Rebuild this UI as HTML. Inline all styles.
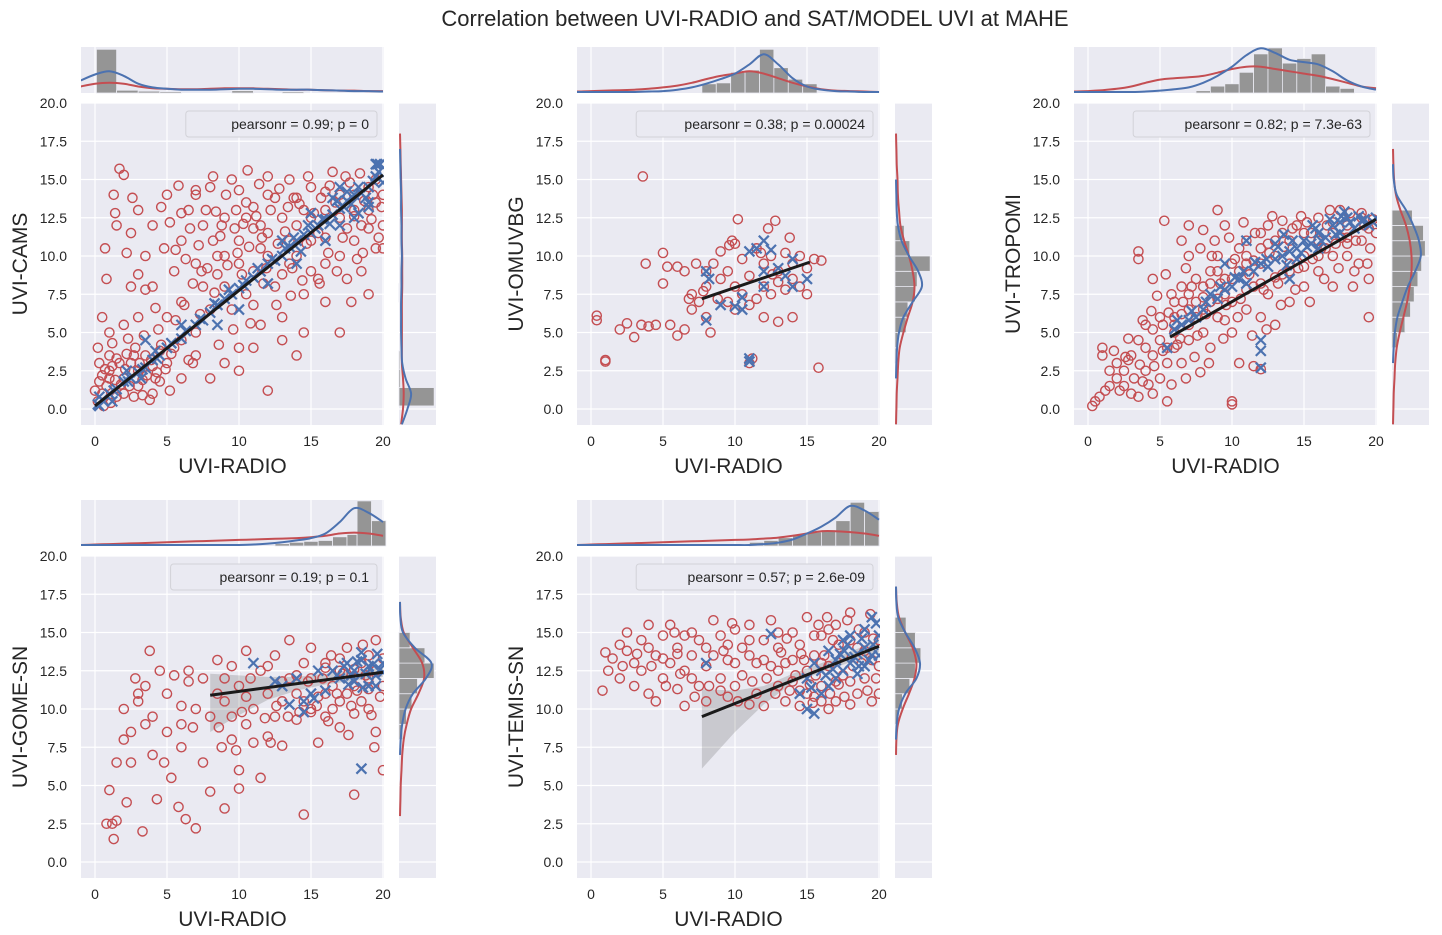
<!DOCTYPE html>
<html><head><meta charset="utf-8"><style>
html,body{margin:0;padding:0;background:#fff;}
svg{display:block;font-family:"Liberation Sans",sans-serif;}
</style></head><body>
<svg id="chart" width="1442" height="935" viewBox="0 0 1442 935" xmlns="http://www.w3.org/2000/svg">
<text x="755" y="26" text-anchor="middle" font-size="22" fill="#262626">Correlation between UVI-RADIO and SAT/MODEL UVI at MAHE</text>
</svg>
<script>
// ---- data ----
const xTicks=[0,5,10,15,20];
const yTicks=[0,2.5,5,7.5,10,12.5,15,17.5,20];
const yTickLabels=["0.0","2.5","5.0","7.5","10.0","12.5","15.0","17.5","20.0"];
const yTitles=["UVI-CAMS","UVI-OMUVBG","UVI-TROPOMI","UVI-GOME-SN","UVI-TEMIS-SN"];
const legendTexts=["pearsonr = 0.99; p = 0","pearsonr = 0.38; p = 0.00024","pearsonr = 0.82; p = 7.3e-63","pearsonr = 0.19; p = 0.1","pearsonr = 0.57; p = 2.6e-09"];
const fitLines=[[0,0.2,20,15.3],[7.7,7.2,15.2,9.6],[5.7,4.7,20,12.4],[8,10.9,20,12.4],[7.7,9.5,20,14.1]];
const ciBands=[[],[],[],[[8,8.5,12.3],[10,9.6,12.2],[12,10.6,12.1],[14,11.2,12.1],[16,11.6,12.3],[20,12.1,12.7]],[[7.7,6.1,11.3],[10,8.5,11.2],[12,10.3,11.5],[14,11.7,12.3],[16,12.4,13.0],[20,13.7,14.5]]];
const red1=[0.2,0.5,0.5,1,0.8,1.5,1,2,1.2,2.8,1.5,3.3,2,2,2.5,3,3,2.5,3.5,3.5,4,2.8,4.5,3.8,2,1,3,1.5,4,1,1.5,0.8,0.5,2.2,1,3.5,0,1.2,2.8,4,5,3,5.5,4,3.8,0.6,4.5,1.8,0.3,3,0.2,4,1,5,0.5,6,2,5.5,3,6,0.8,8.5,0.7,10.5,1.7,15.7,2,15.3,1.5,12,1.3,14,2.5,11.5,3,13,3.5,10,4,8,4,12,5,14,5.5,9,6,11,6,7,6.5,13,7,5,7,9.5,7.5,12,8,14.5,8,6.5,8.5,10,9,12.5,9,8,9.5,15,10,4,10,11,10.5,13.5,10.5,7.5,11,9,11.5,12,11.5,5.5,12,14,12,10,12.5,8,13,12.5,13,6,13.5,15,14,10,14,3.5,14.5,13,15,9,15,14.5,15.5,11.5,16,7,16,13,16.5,15.5,17,10,17,12.5,17.5,8.5,18,14,18,11,18.5,9,19,13,19,7.5,19.5,15,19.5,10.5,20,12,20,14,8,2,9,3,10,2.5,12,1.2,11,4,13,4.5,14.5,5,7,3.5,6,2,6,4.5,17,5,12,11.5,10,9.5,9,10,11,13.2,14,12,13,8.8,15,11,16,9.5,4.8,10.5,3.5,7.8,2.5,8,7.2,10.7,8.8,12,5.2,12.2,10,14.3,12,15.2,11,6.8,16,11.2,18,12.6,19,11.8,1,2.5,2.2,3.6,3.3,1.9,0.6,0.2,1.8,1.6,2.7,0.8,4.2,2,5.2,1.2,6.5,3.2,7.5,8,8.2,11,9.5,6.5,10.5,12.5,11.5,10.5,12.5,13.8,13.5,11,14,13.8,15,12.5,16,14.2,17,14,18,13,19,14.5,6,12.8,7,14,5,6,8.5,8.8,9.8,13,11,11.8,13.5,9.5,14.5,7.5,15.5,8.5,17.5,11.8,18.5,12,19.5,13.5,20,10.5];
const red1b=[0.3,1.8,0.7,2.6,1.1,0.4,1.4,1.9,1.7,3,2.1,2.6,2.4,1.5,2.7,3.5,3.1,3,3.3,0.9,3.6,2.2,3.9,3.2,4.3,2.4,4.6,4.2,4.9,2.6,5.3,3.6,1.2,4.3,2.3,4.6,3.4,4.8,4.4,5.2,5.6,5.8,6.2,6.8,6.8,8.2,7.3,6.2,7.8,9.2,8.3,7.6,8.7,11.3,9.2,9.4,9.7,11.8,10.2,8.8,10.7,10.6,11.2,12.6,11.7,8.2,12.2,13,12.7,10.8,13.2,11.6,13.7,9.2,14.2,13.4,14.7,10.8,15.2,12.8,15.7,13.8,16.2,10.2,16.7,13.5,17.2,11.2,17.7,14.8,18.2,9.8,18.7,13.6,19.2,12.4,19.7,11.2,19.9,13.2,6.3,9.8,7.7,13,8.4,12.9,9.1,14,10.3,12.1,11.4,14.7,12.8,14.4,13.8,13.8,14.8,15.2,16.3,14.6,17.4,15.2,18.4,15.4,19.3,14,6.8,3,8.6,4.2,9.6,5.2,10.8,5.6,12.6,6.8,13.6,7.4,15.6,8.2,16.8,9,18.6,10.2,4.2,6.6,3,8.8,2.2,10.2,5.6,10.4,6.6,11.8,7.4,9,9.9,10.2,11.9,9.2,14.4,8.4,17.8,7,1.4,12.8,2.6,13.8,4.6,13.2,5.8,14.6,7,14.3,8.2,15.2,10.6,15.6,11.6,11.2,13.4,13.2];
const blue1=[0.2,0.3,0.5,0.6,1,1,1.5,1.3,2,1.8,2.5,2,3,2.4,3.5,2.7,4,3.2,4.5,3.5,5,4,6,4.6,7,5.5,7.5,5.8,8,6.3,8.5,6.8,9,7.2,9.5,7.5,10,7.9,10.5,8.4,11,8.6,11.5,9,12,9.5,12.5,9.7,13,10,13.5,10.6,14,11,14.5,11.4,15,11.5,15.5,12,16,12.4,16.5,12.7,17,13.1,17.5,13.6,18,14,18.5,14.1,19,14.5,19.5,15.2,19.8,16,19.5,16,20,14.8,17,14.5,18,12.5,16,11,14,9.5,12,8.2,10,6.5,8.5,5.5,3.5,4.5,6,5.5,0.3,0.8,1.2,0.5,2.2,2.5,3.2,2,4.2,3.8,13,11,15,12.8,17,12,19,13.5,16.5,13.8];
const blue1b=[13.2,10.5,13.8,11.2,14.3,10.3,14.8,12,15.3,11.8,15.8,12.4,16.3,12.1,16.8,13.6,17.3,13.2,17.8,13.4,18.3,14.5,18.8,13.8,19.3,14.9,19.7,15.5,19.6,16,12.3,9.8,11.3,9.2,10.3,8.1,9.3,7.8,8.3,6.9,7.3,5.9,6.3,5.1,5.3,4.3,4.3,3.3,3.3,2.6,2.3,1.8,1.3,1.2,0.6,0.5,0.3,0.2,17.5,14.2,18.3,12.8,19,13.2];
const red2=[0.4,5.8,0.4,6.1,1,3.2,1,3.1,2,5.2,2.5,5.6,3,4.7,3.5,5.5,3.6,15.2,3.8,9.5,4,5.4,4.5,5.5,5,10.2,5.3,9.3,5,8.2,5.5,5.5,6,4.8,6,9.3,6.5,9,6.5,5.2,7,7.5,7,6.5,7.3,9.5,7.5,7,8,8,8,6,8.3,5,8.5,9.5,8.8,7.2,9,8.5,9,10.3,9.5,7,9.5,9,10,8,10,6.5,10,10.8,10.5,7.5,10.5,9.8,11,6.8,11,8.7,11,3,11.2,3.3,11.5,10.5,11.5,7.2,12,9.5,12,8,12,6,12.3,11.8,12.5,10,12.5,7.5,13,9,13,8.3,13,5.7,13.5,10.2,13.5,7.8,14,9.5,14,8.5,14,6,14.5,10,14.5,8,15,9.2,15,7.5,15.5,9.8,15.8,2.7,16,9.7,9.8,11,10.2,12.4,12.8,12.3,8,9,9.6,10.7,7.8,7.7,6.8,7.2,11.8,10.2,13.8,11.2,12.6,8.8];
const blue2=[8,5.8,8,9,8.2,8.5,9,6.8,10,6.7,10.5,6.5,11,3.1,11,3.3,11,10.3,11.5,10.5,12,9,12,11,12.5,10.4,13,9.2,13.5,8.7,14,9.8,14,8,15,8.5,12,8,10.5,7.3];
const red3=[0.3,0.2,0.5,0.5,0.8,0.8,1,3.5,1,4,1.5,1.5,2,2,2,3,2.5,2.5,3,1,3,3.5,3.5,0.8,3.5,4.5,4,2.5,4,5.5,4.5,1,4.5,3.5,5,2,5,6,5,4.5,5.5,0.5,5.5,3,6,7,6,5,6.5,3,6.5,8,7,4.5,7,10,7.5,6,7.5,8.5,8,5,8,11.7,8,7.3,8.5,9,8.5,4,9,6,9,10,9.5,7.5,9.5,12,10,0.5,10,0.3,10,5,10,8.5,10.5,10.5,10.5,3,11,6.5,11,11,11.5,8,11.5,2.8,12,9.5,12,6,12,2.6,12.5,12,12.5,7.5,13,10,13,5.5,13.5,8.8,13.5,11.5,14,9.5,14,7,14.5,12,15,10,15,8,15.5,11.5,16,9,16,12.5,16.5,10.5,17,8,17,11.5,17.5,13,18,10,18,12,18.5,9,19,11,19,12.8,19.5,8.5,19.5,6,20,11.5,3.5,10.3,3.5,9.8,5.3,12.3,6.5,11,4.5,8.5,7,12,9,13,11,9.5,12,11.5,13.5,12.3,8.5,7,6,6,7,7.5,9.5,5.8,5.5,4,6,5.5,6.5,6.2,7,6.5,7.5,7,8,8,8.5,8.2,9,9,9.5,8.5,10,9.5,10.5,9,11,10,11.5,9.7,12,10.5,12.5,10.8,13,11,14,11,15,11.5,16,11,17,12.2,18,11.2,19,12.5,4,4,4.5,5.2,5.2,5.5,6,4,7,5.5,8,6.5,9,7.2,10,7,11,7.8,12,8.2,13,8.6,14,9,15,9.3,16,10,17,10,18,10.8,19.5,11.8,2.5,1.5,1.5,2.5,3.8,1.8,2.8,3.2];
const red3b=[1.2,1.2,1.8,3.8,2.2,1.2,2.6,3.4,3.2,2,3.6,2.9,4.2,1.6,4.6,2.8,5.2,3.8,5.6,6.3,6.2,4.2,6.6,7,7.2,8,7.6,4.8,8.2,6.2,8.6,10,9.2,8.2,9.6,6.8,10.2,9.8,10.6,7.2,11.2,8.8,11.6,11.5,12.2,7.8,12.6,10.2,13.2,8.2,13.6,10.6,14.2,11.8,14.6,9.2,15.2,12.2,15.6,9.8,16.2,10.5,16.6,12,17.2,10.8,17.6,11.2,18.2,12.8,18.6,11,19.2,12,19.6,10.5,19.8,12.4,5.8,7.5,6.8,9.2,7.8,10.5,8.8,11,9.8,11.2,10.8,12.2,12.8,12.6,14.8,12.6,16.8,13,18.8,9.5,4.8,7.4,5.4,8.8,3.8,5.8,2.8,4.6,6.4,4.6,7.4,3.4,8.4,3,9.4,4.6,10.4,6,11.4,4.8,12.4,5.2,13.4,6.8,14.4,7.8,15.4,7,16.4,8.5,17.4,9.2,18.4,8,19.4,9.5,4.4,6.4,5.8,1.6,6.8,2,7.8,2.4];
const blue3=[5.5,4,6,5.2,6.5,5.5,7,5.8,7.5,6,8,6.5,8.5,7.5,9,7.2,9.5,7.8,10,8,10.5,8.5,11,8.2,11.5,9,12,9.5,12.5,9.3,13,9.8,13.5,10,14,10.3,14.5,10.5,15,11,15.5,10.8,16,11.5,16.5,11.2,17,12,17.5,12.2,18,12.5,18.5,11.8,19,12.3,19.5,12,20,12.5,12,4.5,12,3.8,12,2.7,11,11,9.5,9.5,14,8.5,13,10.8,14.5,9.8,16,10.5,17.5,11.5];
const blue3b=[12.4,9.8,13.2,10.6,13.8,9.4,14.2,11,14.8,10.2,15.2,10.6,15.8,11.8,16.2,11,16.8,12.4,17.2,11.4,17.8,12.9,18.2,12.2,18.8,12.6,19.2,12.4,19.8,12.2,11.6,9.6,10.8,9,10.2,8.6,9.2,8,8.2,7,7.2,6.4,6.2,5.8,13.6,11.4,15.6,12,17.6,12.6];
const red4=[0.8,2.5,1,4.7,1.2,2.5,1.3,1.5,1.5,2.7,1.5,6.5,2,8,2,10,2.2,3.9,2.5,8.5,2.8,12,2.5,6.5,3,10.5,3.3,2,3.5,9,3.5,11.5,3.8,13.8,4,7,4,9.5,4.3,4.1,4.5,12.5,4.8,6.5,5,8.5,5,11,5.3,5.5,5.5,12.2,5.8,3.6,6,9,6,7.5,6.3,2.8,6.5,12.5,6.5,11.8,6.8,8.8,7,10,7,2.2,7.5,12,7.5,6.5,8,9.5,8,4.6,8.5,11,8.5,13.2,8.8,7.5,9,3.5,9,10.5,9.5,12.8,9.5,8,10,6,10,11.5,10,4.8,10.5,13.8,10.5,9,11,10,11,7.8,11.5,12.5,11.5,5.5,12,11,12,8.2,12.5,13.5,12.5,9.5,13,10.5,13,7.6,13.5,12,13.5,14.5,14,9.3,14,11,14.5,3.1,14.5,13,15,10,15,12,15.5,7.8,16,13,16,11,16.5,10,17,12.5,17,8.8,17.5,14,18,4.4,18,11.5,18.5,13,19,10,19,12,19.5,14.5,19.5,8.5,20,11.5,20,6,3,11,6,10.2,9,12,15,14,17,13.3,18,12.6,19,13.5,16,12.7,14,12.2,14.5,10.5,15,9.8,15.5,10.8,16,9.5,16.5,11.5,17,10.5,17.5,11,18,9.7,18.5,10.5,19,11.3,19.5,12.5,20,13.3,13,11.8,12,12.8,10.5,10.8,9.5,9.5];
const red4b=[14.2,9.8,14.8,11.8,15.4,10.2,15.8,12,16.2,9.2,16.8,11,17.2,12.3,17.8,10.2,18.2,11.2,18.8,12.2,19.2,9.6,19.8,10.8,13.4,9.5,12.6,10.2,11.8,9.4,10.8,12,10.2,9.8,9.8,7.3,8.6,8.8,12.2,7.8,16.4,13.5,18.6,14.2,17.6,8.3,19.4,7.5];
const blue4=[13,11.5,13.5,10.3,14,12,14.5,10.5,15,11,15.5,12.5,16,11.2,16.5,12.5,17,12,17.5,13,18,12.5,18,11.8,18.5,13.2,19,12.8,19,11.5,19.5,12.2,20,13,20,12.4,18.5,6.1,11,13,12.5,11.8,14.5,9.8,15.2,10.7,18.5,13.7,19.5,11.5];
const blue4b=[17.3,12.8,17.8,12.2,18.2,13.1,18.8,12.3,19.3,12.9,19.8,12.6,17.6,11.6,18.6,11.4,19.6,13.6,16.8,12.2];
const red5=[0.8,11.2,1,13.7,1.5,13.3,2,14.2,2,12,2.5,15,3,13,3,11.5,3.5,14.5,3.5,12.5,4,15.5,4,11,4.5,13.5,4.5,10.5,5,14.8,5,12,5.5,13,5.5,15.5,6,11.3,6,14,6.5,12.5,6.5,10.2,7,15,7,13.5,7.5,11.5,7.5,14.5,8,12.8,8,10.5,8.5,15.8,8.5,13.5,9,12,9,14.8,9.5,10.8,9.5,13.2,10,15.2,10,11.5,10.5,14,10.5,12.2,11,10.3,11,15.5,11.5,13,11.5,11,12,14.5,12,10.2,12.5,12.8,12.5,15.8,13,11.5,13,14,13.5,10.5,13.5,13,14,15,14,11.8,14.5,10.2,14.5,14.2,15,12.5,15,16,15.5,10.8,15.5,13.5,16,14.8,16,11.5,16.5,12.8,17,15.5,17,10.5,17.5,13.5,18,11.8,18,16.3,18.5,14,19,12,19,15,19.5,13.2,20,14.5,20,11,16.5,10,18,10.3,13,12.5,11,13.5,9,11.2,6,13.6,2.5,13.8,4,14,5,13.3,6.5,14.8,7,12,8,14,9.5,14.2,10,13,11,14.5,12,13.2,13,15,14,13.2,15,11,15.5,14.8,16,13,16.5,15.2,17,11.8,17.5,12.2,18,14.5,18.5,11,19,13.8,19.5,10.5,20,12.8,14.5,11.2,16,10.5];
const red5b=[14.2,12.2,14.6,13.6,15.2,11.6,15.6,12.2,16.2,13.5,16.6,11,17.2,14.2,17.6,10.8,18.2,12.8,18.6,15.2,19.2,11.2,19.6,14.6,19.8,12,17.8,15.8,16.8,14.5,15.8,15.5,14.8,13.2,13.8,11.2,13.2,13.7,12.2,12,11.2,11.8,10.2,10.5,9.2,13.8,8.2,11.5,7.2,10.8,6.2,12.3,5.2,11.5,4.2,12.8,3.2,13.6,2.2,12.8,1.2,12.5,5.8,15,9.8,15.6,12.8,11,13.6,14.6,16.4,16,18.8,13,19.4,16.2,17.2,11.6,15.4,10.4];
const blue5=[14.5,11,15,12,15,10,15.5,13,16,12.5,16,11,16.5,13.8,17,12,17.5,14.5,17.5,12.5,18,13,18,14.8,18.5,13.6,19,14,19,15.2,19.5,16,19.5,13.5,20,14.8,20,13.5,17,13.2,15.5,9.7,18.5,12.3,19,12.8,16.5,11.5,12.5,14.9,8,13];
const blue5b=[16.8,12.6,17.3,13.6,17.8,14.2,18.3,13.4,18.8,14.6,19.3,13.2,19.8,15.6,18.6,12.8,17.6,13.8,16.3,12.2,15.3,11.4,19.6,14.2];
const redSets=[red1.concat(red1b),red2,red3.concat(red3b),red4.concat(red4b),red5.concat(red5b)];
const blueSets=[blue1.concat(blue1b),blue2,blue3.concat(blue3b),blue4.concat(blue4b),blue5.concat(blue5b)];
// top marginal histograms: [start,end,relHeight]
const topHist1=[[0.1,1.5,0.95],[1.5,3,0.06],[3,4.5,0.04],[4.5,6,0.03],[9.5,11,0.05],[13,14.5,0.03]];
const topHist2=[[7.7,8.7,0.2],[8.7,9.7,0.22],[9.7,10.7,0.45],[10.7,11.7,0.5],[11.7,12.7,0.95],[12.7,13.7,0.55],[13.7,14.7,0.3],[14.7,15.7,0.2]];
const topHist3=[[7.5,8.5,0.05],[8.5,9.5,0.15],[9.5,10.5,0.2],[10.5,11.5,0.45],[11.5,12.5,0.85],[12.5,13.5,0.98],[13.5,14.5,0.65],[14.5,15.5,0.75],[15.5,16.5,0.85],[16.5,17.5,0.15],[17.5,18.5,0.1]];
const topHist4=[[12.5,13.5,0.05],[13.5,14.5,0.08],[14.5,15.5,0.1],[15.5,16.5,0.12],[16.5,17.5,0.2],[17.5,18.2,0.25],[18.2,19.2,0.98],[19.2,20.2,0.55]];
const topHist5=[[11,12,0.08],[12,13,0.12],[13,14,0.18],[14,15,0.25],[15,16,0.3],[16,17,0.35],[17,18,0.55],[18,19,0.95],[19,20,0.75]];
const topHists=[topHist1,topHist2,topHist3,topHist4,topHist5];
// top KDE sampled at x=-1..20
const topBlue=[[0.25,0.38,0.45,0.35,0.18,0.1,0.07,0.05,0.05,0.05,0.06,0.07,0.07,0.06,0.05,0.05,0.05,0.04,0.03,0.02,0.02,0.01],[0,0,0,0,0,0.01,0.02,0.05,0.1,0.18,0.28,0.4,0.6,0.82,0.6,0.3,0.12,0.05,0.02,0.01,0,0],[0,0,0,0,0,0.01,0.03,0.06,0.1,0.2,0.35,0.55,0.8,0.95,0.85,0.7,0.65,0.6,0.45,0.25,0.12,0.05],[0,0,0,0,0,0,0,0,0,0,0,0,0.01,0.03,0.06,0.1,0.15,0.25,0.5,0.8,0.7,0.5],[0,0,0,0,0,0,0,0,0,0,0,0,0,0.02,0.05,0.12,0.25,0.4,0.6,0.85,0.75,0.55]];
const topRed=[[0.12,0.18,0.2,0.18,0.12,0.08,0.07,0.06,0.06,0.07,0.08,0.08,0.08,0.07,0.06,0.05,0.05,0.04,0.03,0.03,0.02,0.02],[0.01,0.02,0.03,0.04,0.05,0.07,0.1,0.14,0.2,0.28,0.35,0.4,0.45,0.4,0.3,0.2,0.12,0.06,0.03,0.02,0.01,0],[0.01,0.02,0.04,0.07,0.12,0.2,0.27,0.3,0.32,0.35,0.42,0.5,0.55,0.55,0.5,0.45,0.4,0.35,0.28,0.2,0.12,0.08],[0,0.01,0.02,0.03,0.04,0.05,0.06,0.07,0.08,0.09,0.1,0.11,0.12,0.13,0.14,0.15,0.17,0.2,0.25,0.27,0.25,0.2],[0,0.01,0.02,0.03,0.04,0.05,0.06,0.07,0.08,0.09,0.1,0.11,0.12,0.14,0.16,0.2,0.25,0.3,0.3,0.28,0.25,0.2]];
// right marginal histograms: [start,end,relWidth]
const rightHist1=[[0.2,1.4,0.95],[1.4,2.6,0.04],[2.6,3.8,0.03],[7,8.2,0.02]];
const rightHist2=[[3,4,0.05],[4,5,0.08],[5,6,0.3],[6,7,0.35],[7,8,0.55],[8,9,0.6],[9,10,0.95],[10,11,0.4],[11,12,0.25]];
const rightHist3=[[4,5,0.15],[5,6,0.35],[6,7,0.5],[7,8,0.6],[8,9,0.7],[9,10,0.8],[10,11,0.9],[11,12,0.85],[12,13,0.55]];
const rightHist4=[[8,9,0.1],[9,10,0.2],[10,11,0.35],[11,12,0.5],[12,13,0.95],[13,14,0.7],[14,15,0.3]];
const rightHist5=[[9,10,0.1],[10,11,0.2],[11,12,0.4],[12,13,0.55],[13,14,0.7],[14,15,0.55],[15,16,0.3]];
const rightHists=[rightHist1,rightHist2,rightHist3,rightHist4,rightHist5];
// right KDE sampled at y=-1..20
const rightBlue=[[0.05,0.2,0.3,0.15,0.06,0.04,0.03,0.03,0.03,0.04,0.04,0.05,0.04,0.04,0.03,0.03,0.02,0.01,0,0,0,0],[0,0,0,0,0.01,0.03,0.08,0.2,0.45,0.7,0.6,0.35,0.15,0.05,0.02,0.01,0,0,0,0,0,0],[0,0,0,0,0,0.02,0.05,0.12,0.25,0.4,0.6,0.75,0.7,0.55,0.35,0.1,0.02,0,0,0,0,0],[0,0,0,0,0,0,0,0,0,0.02,0.06,0.15,0.35,0.7,0.85,0.4,0.08,0.01,0,0,0,0],[0,0,0,0,0,0,0,0,0,0,0.02,0.08,0.25,0.55,0.65,0.5,0.25,0.06,0.01,0,0,0]];
const rightRed=[[0.03,0.08,0.1,0.08,0.05,0.05,0.05,0.05,0.05,0.06,0.06,0.06,0.05,0.05,0.05,0.04,0.03,0.02,0.01,0,0,0],[0,0.01,0.02,0.04,0.06,0.1,0.2,0.32,0.45,0.5,0.45,0.35,0.22,0.12,0.08,0.05,0.04,0.02,0.01,0,0,0],[0,0.01,0.02,0.04,0.06,0.1,0.18,0.28,0.38,0.45,0.5,0.5,0.45,0.35,0.2,0.08,0.03,0.01,0,0,0,0],[0,0,0,0,0,0.01,0.02,0.04,0.06,0.1,0.18,0.3,0.5,0.65,0.6,0.35,0.1,0.02,0,0,0,0],[0,0,0,0,0,0,0,0,0,0.01,0.05,0.18,0.35,0.5,0.55,0.45,0.25,0.08,0.02,0,0,0]];

// ---- layout ----
const panelX=[81,577,1074,81,577];
const panelY=[103,103,103,556,556];
const NS="http://www.w3.org/2000/svg";
const svg=document.getElementById('chart');
function el(tag,attrs,parent){const e=document.createElementNS(NS,tag);for(const k in attrs)e.setAttribute(k,attrs[k]);(parent||svg).appendChild(e);return e;}
function smooth(pts){let d="M"+pts[0][0].toFixed(1)+","+pts[0][1].toFixed(1);for(let i=0;i<pts.length-1;i++){const p0=pts[i-1]||pts[i],p1=pts[i],p2=pts[i+1],p3=pts[i+2]||p2;const c1=[p1[0]+(p2[0]-p0[0])/6,p1[1]+(p2[1]-p0[1])/6],c2=[p2[0]-(p3[0]-p1[0])/6,p2[1]-(p3[1]-p1[1])/6];d+="C"+c1[0].toFixed(1)+","+c1[1].toFixed(1)+" "+c2[0].toFixed(1)+","+c2[1].toFixed(1)+" "+p2[0].toFixed(1)+","+p2[1].toFixed(1);}return d;}

for(let p=0;p<5;p++){
  const L=panelX[p],T=panelY[p],W=303,H=322;
  const sx=v=>L+14+14.4*v;
  const sy=v=>T+306-15.3*v;
  const g=el('g',{});
  
  
  const bg=el('rect',{x:L,y:T,width:W,height:H,fill:'#eaeaf2'},g);
  
  
  xTicks.forEach(t=>{const l=el('line',{x1:sx(t),x2:sx(t),y1:T,y2:T+H,stroke:'#fff','stroke-width':1.2},g);
    const tx=el('text',{x:sx(t),y:T+H+21,'text-anchor':'middle','font-size':14,fill:'#262626'},g);tx.textContent=t;});
  yTicks.forEach((t,i)=>{const l=el('line',{x1:L,x2:L+W,y1:sy(t),y2:sy(t),stroke:'#fff','stroke-width':1.2},g);
    const tx=el('text',{x:L-14,y:sy(t)+5,'text-anchor':'end','font-size':14,fill:'#262626'},g);tx.textContent=yTickLabels[i];});
  const xt=el('text',{x:L+W/2,y:T+H+48,'text-anchor':'middle','font-size':21,fill:'#262626'},g);xt.textContent='UVI-RADIO';
  
  const yt=el('text',{x:0,y:0,'text-anchor':'middle','font-size':21,fill:'#262626',transform:'translate('+(L-54)+','+(T+H/2)+') rotate(-90)'},g);yt.textContent=yTitles[p];
  
  const cp=el('clipPath',{id:'clip'+p},g);el('rect',{x:L,y:T,width:W,height:H},cp);
  const inner=el('g',{'clip-path':'url(#clip'+p+')'},g);
  const ci=ciBands[p];
  if(ci.length){let d='M'+ci.map(c=>sx(c[0])+','+sy(c[2])).join('L')+'L'+ci.slice().reverse().map(c=>sx(c[0])+','+sy(c[1])).join('L')+'Z';
    const band=el('path',{d:d,fill:'rgba(0,0,0,0.14)'},inner);}
  const rs=redSets[p];
  for(let i=0;i<rs.length;i+=2){const c=el('circle',{cx:sx(rs[i]),cy:sy(rs[i+1]),r:4.6,fill:'none',stroke:'#c44e52','stroke-width':1.4},inner);
    }
  const bs=blueSets[p];
  for(let i=0;i<bs.length;i+=2){const cx=sx(bs[i]),cy=sy(bs[i+1]);const m=el('path',{d:'M'+(cx-5)+','+(cy-5)+'L'+(cx+5)+','+(cy+5)+'M'+(cx-5)+','+(cy+5)+'L'+(cx+5)+','+(cy-5),stroke:'#4c72b0','stroke-width':2.2,fill:'none'},inner);
    }
  const f=fitLines[p];
  const fl=el('line',{x1:sx(f[0]),y1:sy(f[1]),x2:sx(f[2]),y2:sy(f[3]),stroke:'#1a1a1a','stroke-width':3},inner);
  
  const tw=legendTexts[p].length*7.6+24;
  const lg=el('rect',{x:L+W-7-tw,y:T+8,width:tw,height:26,rx:3,fill:'#eaeaf2',stroke:'#d2d2d8','stroke-width':1},g);
  
  const lt=el('text',{x:L+W-15,y:T+26,'text-anchor':'end','font-size':14,fill:'#262626'},g);lt.textContent=legendTexts[p];
  
  // top marginal
  const MT=T-56,MH=46;
  const tm=el('g',{});
  el('rect',{x:L,y:MT,width:W,height:MH,fill:'#eaeaf2'},tm);
  xTicks.forEach(t=>el('line',{x1:sx(t),x2:sx(t),y1:MT,y2:MT+MH,stroke:'#fff','stroke-width':1.2},tm));
  topHists[p].forEach(b=>{const r=el('rect',{x:sx(b[0]),y:MT+MH-b[2]*MH,width:sx(b[1])-sx(b[0]),height:b[2]*MH,fill:'#959595',stroke:'#eaeaf2','stroke-width':0.8},tm);});
  const tcp=el('clipPath',{id:'tclip'+p},tm);el('rect',{x:L,y:MT,width:W,height:MH},tcp);
  [[topRed[p],'#c44e52','top-kde-red'],[topBlue[p],'#4c72b0','top-kde-blue']].forEach(([arr,col,nm])=>{const pts=arr.map((v,i)=>[sx(i-1),MT+MH-1-v*MH]);const k=el('path',{d:smooth(pts),fill:'none',stroke:col,'stroke-width':2,'clip-path':'url(#tclip'+p+')'},tm);});
  // right marginal
  const RL=L+W+15,RW=37;
  const rm=el('g',{});
  el('rect',{x:RL,y:T,width:RW,height:H,fill:'#eaeaf2'},rm);
  yTicks.forEach(t=>el('line',{x1:RL,x2:RL+RW,y1:sy(t),y2:sy(t),stroke:'#fff','stroke-width':1.2},rm));
  rightHists[p].forEach(b=>{const r=el('rect',{x:RL,y:sy(b[1]),width:b[2]*RW,height:sy(b[0])-sy(b[1]),fill:'#959595',stroke:'#eaeaf2','stroke-width':0.8},rm);});
  [[rightRed[p],'#c44e52','right-kde-red'],[rightBlue[p],'#4c72b0','right-kde-blue']].forEach(([arr,col,nm])=>{
    let a=0,b=arr.length-1;while(a<b&&arr[a]===0)a++;while(b>a&&arr[b]===0)b--;a=Math.max(0,a-1);b=Math.min(arr.length-1,b+1);
    const pts=[];for(let i=a;i<=b;i++)pts.push([RL+1+arr[i]*RW,sy(i-1)]);
    const k=el('path',{d:smooth(pts),fill:'none',stroke:col,'stroke-width':2},rm);});
}
</script>
</body></html>
